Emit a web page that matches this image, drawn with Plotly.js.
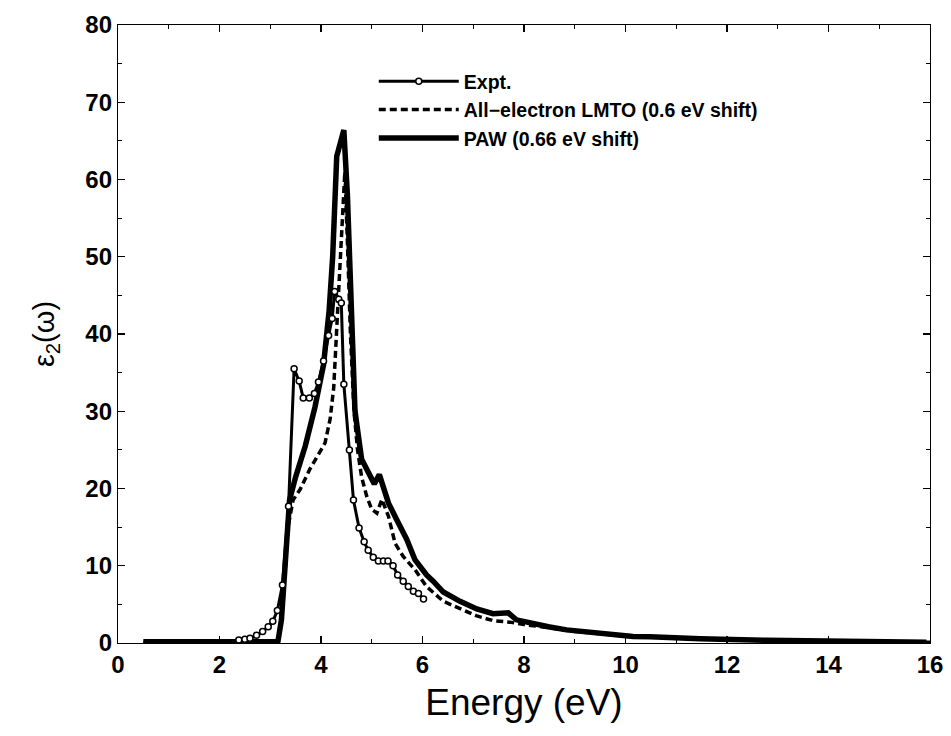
<!DOCTYPE html>
<html>
<head>
<meta charset="utf-8">
<script src="https://cdn.plot.ly/plotly-3.0.1.min.js"></script>
<style>html,body{margin:0;padding:0;background:#fff}#chart{width:951px;height:736px}</style>
</head>
<body>
<div id="chart"></div>
<script>
// Experimental data
const exptE = [2.38,2.50,2.60,2.73,2.85,2.96,3.05,3.14,3.24,3.36,3.47,3.57,3.65,3.77,3.87,3.95,4.05,4.15,4.22,4.27,4.35,4.40,4.45,4.56,4.64,4.75,4.85,4.93,5.03,5.13,5.23,5.32,5.42,5.51,5.62,5.72,5.82,5.92,6.02];
const exptEps = [0.4,0.5,0.6,1.0,1.5,2.1,2.8,4.2,7.5,17.7,35.5,33.9,31.7,31.7,32.3,33.8,36.5,39.8,42.0,45.5,44.5,44.0,33.5,25.0,18.5,14.9,13.1,12.0,11.1,10.6,10.6,10.6,10.0,8.8,8.0,7.3,6.7,6.4,5.7];

// All-electron LMTO (0.6 eV shift)
const lmtoE = [0.5,1.5,2.5,3.15,3.25,3.35,3.45,3.59,3.78,3.98,4.08,4.18,4.25,4.32,4.40,4.47,4.52,4.58,4.65,4.72,4.80,4.90,5.00,5.10,5.20,5.33,5.46,5.62,5.85,6.08,6.41,6.74,7.07,7.39,7.72,8.0,8.5,9.0,10.0,11.0,12.0,14.0,16.0];
const lmtoEps = [0.1,0.1,0.1,0.1,5,15,18.5,19.9,22.5,24.7,25.9,29,33,42,53,61,52,40,30,25,21.5,19.0,17.3,16.8,18.6,16.4,12.9,11.2,9.5,7.3,5.4,4.5,3.5,2.9,2.7,2.4,1.9,1.5,0.9,0.6,0.4,0.2,0.1];

// PAW (0.66 eV shift)
const pawE = [0.5,1.5,2.5,3.15,3.22,3.30,3.38,3.50,3.69,3.88,4.05,4.16,4.23,4.31,4.45,4.52,4.60,4.67,4.80,4.97,5.05,5.15,5.33,5.49,5.69,5.85,5.95,6.08,6.21,6.41,6.74,7.07,7.39,7.69,7.85,8.18,8.48,8.84,9.17,9.50,10.15,10.48,11.14,11.47,12.78,14.09,15.93];
const pawEps = [0.15,0.15,0.15,0.15,3,12,18.5,21.5,25.5,30.5,36,43,50,63,66.4,58,42,30,23.8,21.6,20.6,21.8,18.1,16.0,13.4,10.8,9.9,8.8,8.0,6.6,5.4,4.4,3.8,3.9,3.0,2.5,2.1,1.7,1.5,1.2,0.85,0.8,0.6,0.55,0.35,0.2,0.1];

const seriesNames = ["Expt.", "All\u2212electron LMTO (0.6 eV shift)", "PAW (0.66 eV shift)"];
const xTicks = [0,2,4,6,8,10,12,14,16];
const yTicks = [0,10,20,30,40,50,60,70,80];

const FONT = "Liberation Sans, Arial, Helvetica, sans-serif";

const traces = [
  {x: lmtoE, y: lmtoEps, name: seriesNames[1], mode: 'lines', legendrank: 2,
   line: {color: '#000', width: 3.5, dash: '7px,4px'}},
  {x: pawE, y: pawEps, name: seriesNames[2], mode: 'lines', legendrank: 3,
   line: {color: '#000', width: 5.5}},
  {x: exptE, y: exptEps, name: seriesNames[0], mode: 'lines+markers', legendrank: 1,
   line: {color: '#000', width: 3},
   marker: {symbol: 'circle', size: 6, color: '#fff', line: {color: '#000', width: 1.5}}}
];

const axisCommon = {
  showgrid: false, zeroline: false, showline: true, linecolor: '#000', linewidth: 1.2,
  mirror: 'ticks', ticks: 'inside', ticklen: 7, tickwidth: 1.2, tickcolor: '#000',
  tickfont: {family: FONT, size: 24, color: '#000', weight: 'bold'}
};

const layout = {
  width: 951, height: 736,
  margin: {l: 118, r: 21, t: 25, b: 93},
  paper_bgcolor: '#fff', plot_bgcolor: '#fff',
  showlegend: true,
  legend: {x: 0.315, y: 0.94, xanchor: 'left', yanchor: 'top', bgcolor: 'rgba(0,0,0,0)',
           font: {family: FONT, size: 19.5, color: '#000', weight: 'bold'}, itemwidth: 80, tracegroupgap: 0},
  xaxis: Object.assign({}, axisCommon, {
    range: [0, 16], tickvals: xTicks, ticktext: xTicks.map(String),
    minor: {dtick: 1, ticks: 'inside', ticklen: 4, tickcolor: '#000', tickwidth: 1},
    title: {text: 'Energy (eV)', font: {family: FONT, size: 37, color: '#000'}, standoff: 12}
  }),
  yaxis: Object.assign({}, axisCommon, {
    range: [0, 80], tickvals: yTicks, ticktext: yTicks.map(String),
    minor: {dtick: 5, ticks: 'inside', ticklen: 4, tickcolor: '#000', tickwidth: 1},
    title: {text: '\u03b5<sub>2</sub>(\u03c9)', font: {family: FONT, size: 29, color: '#000'}, standoff: 22}
  })
};

Plotly.newPlot('chart', traces, layout, {displayModeBar: false, staticPlot: true});
</script>
</body>
</html>
